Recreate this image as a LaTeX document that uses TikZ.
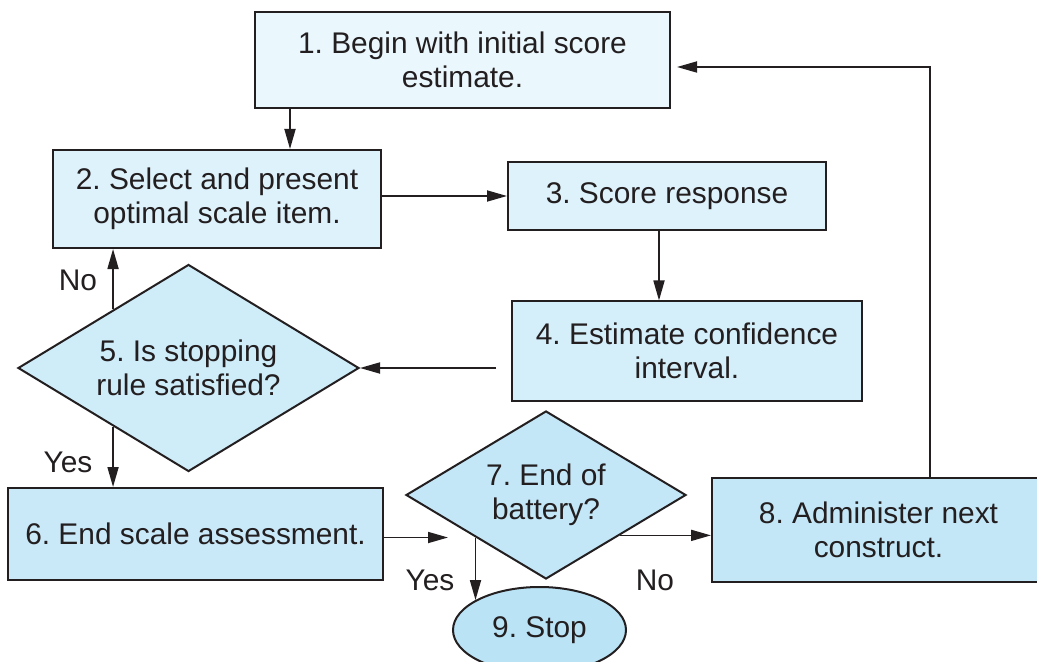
\documentclass[tikz,border=0pt]{standalone}
\usepackage{fontspec}
\setmainfont{Liberation Sans}
\frenchspacing
\usetikzlibrary{shapes.geometric,arrows.meta,calc}
\definecolor{ink}{RGB}{35,31,32}
\definecolor{bleu1}{RGB}{234,247,253}
\definecolor{bleu2}{RGB}{222,242,252}
\definecolor{bleu3}{RGB}{212,238,250}
\definecolor{bleu4}{RGB}{207,236,249}
\definecolor{bleu5}{RGB}{201,233,248}
\definecolor{bleu6}{RGB}{196,231,247}
\definecolor{bleu7}{RGB}{186,227,246}

\begin{document}
\begin{tikzpicture}[x=0.2mm,y=-0.2mm,
  boite/.style={draw=ink,line width=0.4mm,text=ink,align=center,inner sep=0pt,font=\fontsize{17}{19.5}\selectfont},
  losange/.style={boite,diamond,aspect=1.66},
  fleche/.style={draw=ink,line width=0.35mm,-{Triangle[length=4mm,width=2.2mm]}},
  etiq/.style={text=ink,font=\fontsize{17}{19.5}\selectfont}]
\useasboundingbox (0,0) rectangle (1037,662);
\clip (0,0) rectangle (1037,662);

\node[boite,fill=bleu1,minimum width=83mm,minimum height=19.2mm] (b1) at (462.5,60) {1. Begin with initial score\\estimate.};
\node[boite,fill=bleu2,minimum width=65.6mm,minimum height=19.6mm] (b2) at (217,199) {2. Select and present\\optimal scale item.};
\node[boite,fill=bleu2,minimum width=63.6mm,minimum height=13.6mm] (b3) at (667,196) {3. Score response};
\node[boite,fill=bleu3,minimum width=70mm,minimum height=19.8mm] (b4) at (687,351) {4. Estimate confidence\\interval.};
\node[losange,fill=bleu4,minimum width=68.2mm,minimum height=41.4mm] (d5) at (188.5,368) {5. Is stopping\\rule satisfied?};
\node[boite,fill=bleu5,minimum width=75mm,minimum height=18.4mm] (b6) at (195.5,534) {6. End scale assessment.};
\node[losange,fill=bleu6,minimum width=56mm,minimum height=33.6mm] (d7) at (546,495) {7. End of\\battery?};
\node[boite,fill=bleu6,minimum width=66.6mm,minimum height=20.8mm] (b8) at (878.5,530) {8. Administer next\\construct.};
\node[boite,ellipse,fill=bleu7,minimum width=34.6mm,minimum height=17.2mm] (e9) at (539.5,630) {9. Stop};

% points where the branches leave the diamonds
\coordinate (p5h) at ($(d5.west)!.56!(d5.north)$);
\coordinate (p5b) at ($(d5.west)!.56!(d5.south)$);
\coordinate (p7g) at ($(d7.west)!.5!(d7.south)$);
\coordinate (p7d) at ($(d7.east)!.475!(d7.south)$);

\draw[fleche] ([xshift=7.2mm]b1.south west) -- ([xshift=7.2mm]b1.south west |- b2.north);
\draw[fleche] (b2.east |- b3.west) -- (b3.west);
\draw[fleche] ([xshift=-1.6mm]b3.south) -- ([xshift=-1.6mm]b3.south |- b4.north);
\draw[fleche,shorten <=3mm] (b4.west |- d5.east) -- (d5.east);
\draw[fleche] (p5h) -- (p5h |- b2.south);
\draw[fleche] (p5b) -- (p5b |- b6.north);
\draw[fleche,shorten >=5.5mm] (b6.east |- p7g) -- (p7g);
\draw[fleche] (p7g) -- (p7g |- e9.155);
\draw[fleche] (p7d) -- (p7d -| b8.west);
\draw[fleche,shorten >=1.2mm] ([xshift=10.3mm]b8.north) |- ([yshift=-1.4mm]b1.east);

\node[etiq] (non5) at (78,280) {No};
\node[etiq] (oui5) at (68,462) {Yes};
\node[etiq] (oui7) at (430,580) {Yes};
\node[etiq] (non7) at (655,580) {No};

\end{tikzpicture}
\end{document}
